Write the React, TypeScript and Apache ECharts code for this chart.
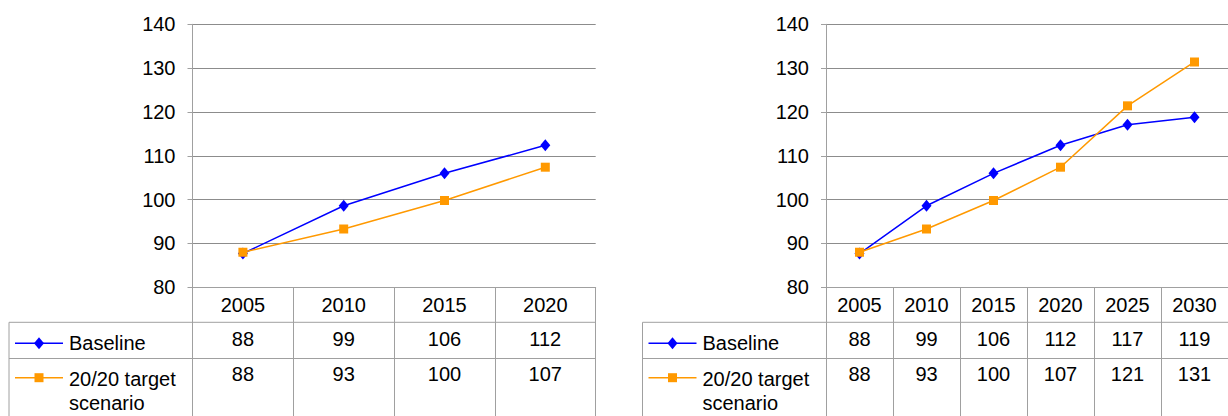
import React, { useEffect, useRef } from "react";
import * as echarts from "echarts";

// Index values for the two projections (2005 ≈ 88)
const yearsShort = ["2005", "2010", "2015", "2020"];
const yearsLong = ["2005", "2010", "2015", "2020", "2025", "2030"];
const baseline = [87.7, 98.6, 106.0, 112.4, 117.1, 118.8];
const target = [88.0, 93.3, 99.8, 107.4, 121.4, 131.4];
const seriesNames = ["Baseline", "20/20 target\nscenario"];
const yMin = 80;
const yMax = 140;
const yStep = 10;

const BLUE = "#0000ff";
const ORANGE = "#ff9900";
const GRID_COLOR = "#8c8c8c";
const TABLE_COLOR = "#a0a0a0";
const FONT = "'Liberation Sans', Arial, sans-serif";
const FS = 20;

const TOP = 24.3;
const AXIS_Y = 287.3;
const ROW1_Y = 322.3;
const ROW2_Y = 358.5;
const PAGE_H = 416;

const panels = [
  { left: 192.5, width: 403.2, legendLeft: 9, years: yearsShort },
  { left: 826, width: 411, legendLeft: 642.5, years: yearsLong },
];

export default function App() {
  const ref = useRef<HTMLDivElement>(null);

  useEffect(() => {
    document.body.style.margin = "0";
    const chart = echarts.init(ref.current!, null, { renderer: "svg" });

    const grid = panels.map((p) => ({
      left: p.left,
      top: TOP,
      width: p.width,
      height: AXIS_Y - TOP,
      containLabel: false,
    }));

    const xAxis = panels.map((p, i) => ({
      type: "category",
      gridIndex: i,
      data: p.years,
      boundaryGap: true,
      axisLine: { show: true, lineStyle: { color: TABLE_COLOR, width: 1 } },
      axisTick: {
        show: true,
        alignWithLabel: false,
        length: PAGE_H - AXIS_Y + 10,
        lineStyle: { color: TABLE_COLOR, width: 1 },
      },
      axisLabel: {
        show: true,
        interval: 0,
        margin: 8,
        color: "#000",
        fontSize: FS,
        fontFamily: FONT,
      },
      splitLine: { show: false },
    }));

    const yAxis = panels.map((_, i) => ({
      type: "value",
      gridIndex: i,
      min: yMin,
      max: yMax,
      interval: yStep,
      axisLine: { show: true, lineStyle: { color: TABLE_COLOR, width: 1 } },
      axisTick: { show: true, inside: false, length: 5, lineStyle: { color: TABLE_COLOR } },
      axisLabel: { margin: 17, color: "#000", fontSize: FS, fontFamily: FONT },
      splitLine: { show: true, lineStyle: { color: GRID_COLOR, width: 1 } },
    }));

    const series: any[] = [];
    panels.forEach((p, i) => {
      const n = p.years.length;
      series.push({
        type: "line",
        name: seriesNames[0],
        xAxisIndex: i,
        yAxisIndex: i,
        data: baseline.slice(0, n),
        symbol: "diamond",
        symbolSize: [10, 12],
        itemStyle: { color: BLUE },
        lineStyle: { color: BLUE, width: 1.5 },
        z: 3,
      });
      series.push({
        type: "line",
        name: seriesNames[1],
        xAxisIndex: i,
        yAxisIndex: i,
        data: target.slice(0, n),
        symbol: "rect",
        symbolSize: 9,
        itemStyle: { color: ORANGE },
        lineStyle: { color: ORANGE, width: 1.5 },
        z: 4,
      });
    });

    chart.setOption({
      animation: false,
      grid,
      xAxis,
      yAxis,
      series,
    });

    // Data table beneath each plot: borders, legend keys and rounded values
    const graphic: any[] = [];
    const textStyle = (extra: any) => ({
      fill: "#000",
      fontSize: FS,
      fontFamily: FONT,
      ...extra,
    });
    panels.forEach((p, i) => {
      const right = p.left + p.width;
      const hline = (y: number) => ({
        type: "line",
        shape: { x1: p.legendLeft, y1: y, x2: right, y2: y },
        style: { stroke: TABLE_COLOR, lineWidth: 1 },
      });
      graphic.push(hline(ROW1_Y));
      graphic.push(hline(ROW2_Y));
      graphic.push({
        type: "line",
        shape: { x1: p.legendLeft, y1: ROW1_Y, x2: p.legendLeft, y2: PAGE_H + 10 },
        style: { stroke: TABLE_COLOR, lineWidth: 1 },
      });

      // legend keys
      const kx1 = p.legendLeft + 6;
      const kx2 = p.legendLeft + 54;
      const kc = p.legendLeft + 30;
      const k1y = 343.3;
      const k2y = 377.7;
      graphic.push({
        type: "line",
        shape: { x1: kx1, y1: k1y, x2: kx2, y2: k1y },
        style: { stroke: BLUE, lineWidth: 1.5 },
      });
      graphic.push({
        type: "polygon",
        shape: { points: [[kc, k1y - 6], [kc + 5, k1y], [kc, k1y + 6], [kc - 5, k1y]] },
        style: { fill: BLUE },
      });
      graphic.push({
        type: "line",
        shape: { x1: kx1, y1: k2y, x2: kx2, y2: k2y },
        style: { stroke: ORANGE, lineWidth: 1.5 },
      });
      graphic.push({
        type: "rect",
        shape: { x: kc - 4.5, y: k2y - 4.5, width: 9, height: 9 },
        style: { fill: ORANGE },
      });
      graphic.push({
        type: "text",
        x: p.legendLeft + 60,
        y: 343,
        style: textStyle({ text: seriesNames[0], verticalAlign: "middle" }),
      });
      graphic.push({
        type: "text",
        x: p.legendLeft + 60,
        y: 367,
        style: textStyle({ text: seriesNames[1], lineHeight: 24, verticalAlign: "top" }),
      });

      // values
      p.years.forEach((yr, k) => {
        const cx = chart.convertToPixel({ xAxisIndex: i }, yr) as number;
        graphic.push({
          type: "text",
          x: cx,
          y: 338.5,
          style: textStyle({ text: String(Math.round(baseline[k])), align: "center", verticalAlign: "middle" }),
        });
        graphic.push({
          type: "text",
          x: cx,
          y: 374,
          style: textStyle({ text: String(Math.round(target[k])), align: "center", verticalAlign: "middle" }),
        });
      });
    });

    chart.setOption({ graphic });

    return () => chart.dispose();
  }, []);

  return <div ref={ref} style={{ width: 1228, height: 416 }} />;
}
